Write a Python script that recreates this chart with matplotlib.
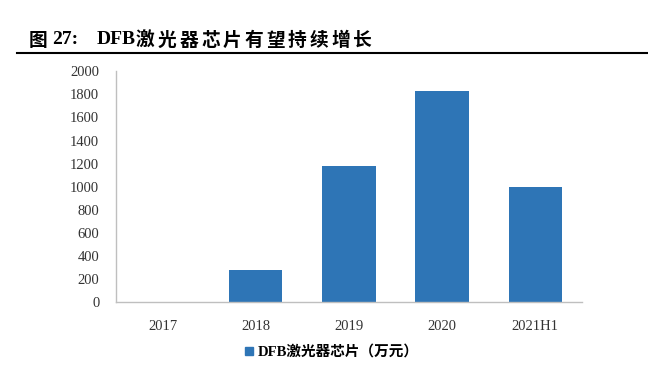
import matplotlib.pyplot as plt
from matplotlib.lines import Line2D

categories = ['2017', '2018', '2019', '2020', '2021H1']
values = [0, 273, 1180, 1832, 995]
yticks = [0, 200, 400, 600, 800, 1000, 1200, 1400, 1600, 1800, 2000]

title_prefix = ['图', '27:', 'DFB']
title_cjk = '激光器芯片有望持续增长'

bar_color = '#2e75b6'
serif_cjk = ['Liberation Serif', 'Noto Sans CJK SC']

W, H = 648, 375
fig = plt.figure(figsize=(6.48, 3.75), dpi=100)
ax = fig.add_axes([0.179, 0.1955, 0.719, 0.614])

ax.bar(range(len(categories)), values, width=0.573, color=bar_color)
ax.set_xlim(-0.5, len(categories) - 0.5)
ax.set_ylim(0, 2000)
ax.set_yticks(yticks)
ax.set_xticks(range(len(categories)))
ax.set_xticklabels(categories)

for lab in ax.get_xticklabels() + ax.get_yticklabels():
    lab.set_family('Liberation Serif')
    lab.set_fontsize(10.5)
    lab.set_color('#333333')
ax.tick_params(length=0)
ax.tick_params(axis='x', pad=13)
ax.tick_params(axis='y', pad=12)

for s in ['top', 'right']:
    ax.spines[s].set_visible(False)
for s in ['left', 'bottom']:
    ax.spines[s].set_color('#bfbfbf')
    ax.spines[s].set_linewidth(1.0)

# title, drawn piece by piece to get the wide character spacing
ty = 1 - 40 / H
fig.text(29 / W, ty, title_prefix[0], family='Noto Sans CJK SC', fontsize=13.5,
         fontweight='bold', va='center')
fig.text(52 / W, ty, title_prefix[1], family='Liberation Serif', fontsize=14,
         fontweight='bold', va='center')
fig.text(97 / W, ty, title_prefix[2], family='Liberation Serif', fontsize=14,
         fontweight='bold', va='center')
for i, ch in enumerate(title_cjk):
    fig.text((136 + i * 21.7) / W, ty, ch, family='Noto Sans CJK SC', fontsize=13.5,
             fontweight='bold', va='center')
fig.add_artist(Line2D([17 / W, 1.0], [1 - 52.5 / H] * 2, color='black', lw=1.5))

# legend
handle = Line2D([], [], marker='s', linestyle='none', color=bar_color, markersize=6)
fig.legend([handle], ['DFB激光器芯片（万元）'], loc='center',
           bbox_to_anchor=(330 / W, 1 - 352 / H), frameon=False,
           handletextpad=0.1, handlelength=1.0,
           prop={'family': serif_cjk, 'weight': 'bold', 'size': 10.5})

fig.savefig('out.png', dpi=100)
